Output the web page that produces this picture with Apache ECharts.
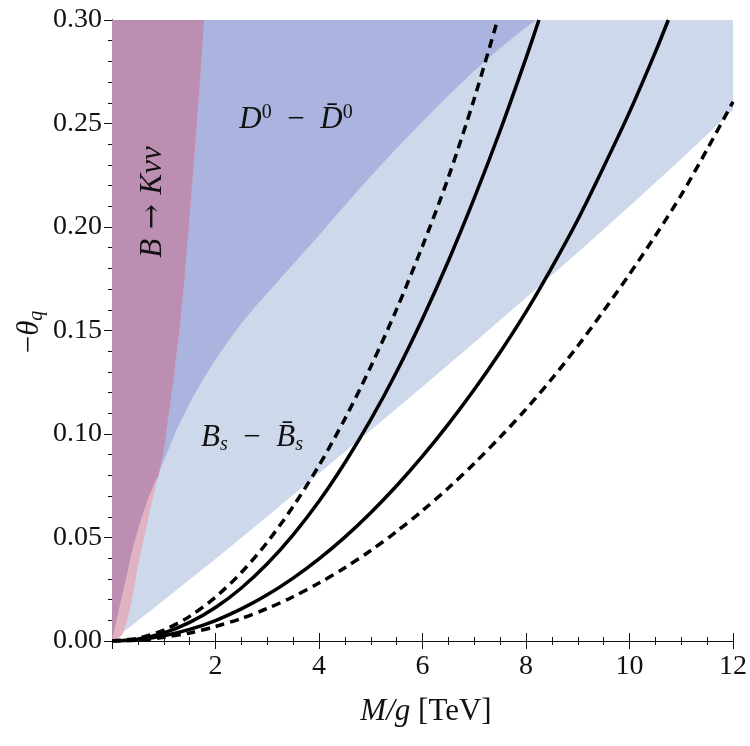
<!DOCTYPE html>
<html>
<head>
<meta charset="utf-8">
<script src="https://cdn.jsdelivr.net/npm/echarts@6/dist/echarts.min.js"></script>
<style>
  html, body { margin: 0; padding: 0; background: #fff; }
  #chart { width: 750px; height: 746px; }
</style>
</head>
<body>
<div id="chart"></div>
<script>
// boundaries of the excluded regions, [M/g in TeV, -theta_q]
const bsEdge = [[0, 0], [1, 0.0197], [2, 0.0396], [3, 0.0602], [4, 0.081], [5, 0.1018], [6, 0.1228],
  [7, 0.1442], [8, 0.1658], [9, 0.1877], [10, 0.21], [11, 0.2328], [12, 0.2565]];
const d0Edge = [[0, 0], [0.05, 0.006], [0.15, 0.017], [0.25, 0.028], [0.4, 0.045], [0.55, 0.058],
  [0.7, 0.069], [0.85, 0.078], [1.0, 0.087], [1.25, 0.102], [1.5, 0.115], [1.75, 0.126], [2.0, 0.136],
  [2.25, 0.145], [2.5, 0.1535], [2.75, 0.161], [3.0, 0.168], [3.5, 0.182], [4.0, 0.196], [4.5, 0.2105],
  [5.0, 0.2245], [5.5, 0.238], [6.0, 0.251], [6.5, 0.2635], [7.0, 0.2755], [7.5, 0.2865],
  [8.0, 0.2965], [8.2, 0.30]];
const kEdge = [[0, 0], [0.1, 0.0008], [0.2, 0.003], [0.3, 0.0105], [0.4, 0.022], [0.5, 0.036],
  [0.6, 0.048], [0.7, 0.059], [0.8, 0.07], [0.9, 0.08], [1.0, 0.092], [1.1, 0.11], [1.2, 0.128],
  [1.3, 0.15], [1.4, 0.175], [1.5, 0.205], [1.6, 0.237], [1.7, 0.27], [1.78, 0.30]];
const junction = 0.9;

// the four black bands
const dashedA = [[0, 0], [0.5, 0.0013], [1, 0.0053], [1.5, 0.0119], [2, 0.0212], [2.5, 0.0331],
  [3, 0.0477], [3.5, 0.065], [4, 0.0848], [4.5, 0.1073], [5, 0.1325], [5.5, 0.1603], [6, 0.1908],
  [6.5, 0.224], [7, 0.262], [7.45, 0.30]];
const solidA = [[0, 0], [0.5, 0.0009], [1, 0.0039], [1.5, 0.009], [2, 0.0162], [2.5, 0.0256],
  [3, 0.0373], [3.5, 0.0513], [4, 0.0675], [4.5, 0.0861], [5, 0.1069], [5.5, 0.1301], [6, 0.1557],
  [6.5, 0.1836], [7, 0.2139], [7.5, 0.2465], [8, 0.2816], [8.25, 0.30]];
const solidB = [[0, 0], [0.5, 0.0006], [1, 0.0025], [1.5, 0.0056], [2, 0.0099], [2.5, 0.0155],
  [3, 0.0223], [3.5, 0.0304], [4, 0.0397], [4.5, 0.0502], [5, 0.062], [5.5, 0.075], [6, 0.0893],
  [6.5, 0.1048], [7, 0.1215], [7.5, 0.1395], [8, 0.159], [8.5, 0.1805], [9, 0.2035], [9.5, 0.229],
  [10, 0.2555], [10.5, 0.2845], [10.75, 0.30]];
const dashedB = [[0, 0], [0.5, 0.0004], [1, 0.0018], [1.5, 0.0039], [2, 0.007], [2.5, 0.0109],
  [3, 0.0157], [3.5, 0.0214], [4, 0.028], [4.5, 0.0354], [5, 0.0437], [5.5, 0.0529], [6, 0.063],
  [6.5, 0.0739], [7, 0.0858], [7.5, 0.0985], [8, 0.112], [8.5, 0.1267], [9, 0.1425], [9.5, 0.1595],
  [10, 0.1772], [10.5, 0.1958], [11, 0.2155], [11.5, 0.2375], [12, 0.2605]];

const xTicks = [0, 12, 2];
const yTicks = [0, 0.3, 0.05];

const serif = "'Liberation Serif', 'DejaVu Serif', serif";
const ink = "#111";

// upper envelope of the D0 and K nu nu edges (where both regions overlap)
const overlapEdge = d0Edge.filter(p => p[0] < junction).concat(kEdge.filter(p => p[0] >= junction));

const region = (data, color) => ({
  type: "line",
  data: data,
  showSymbol: false,
  symbol: "none",
  lineStyle: { width: 0 },
  areaStyle: { color: color, opacity: 1, origin: "end" },
  silent: true,
});

const curve = (data, dashed) => ({
  type: "line",
  data: data,
  showSymbol: false,
  symbol: "none",
  smooth: 0.3,
  lineStyle: { color: "#000", width: 3.5, type: dashed ? [9, 6] : "solid" },
  silent: true,
  z: 5,
});

const tickAxis = (split) => ({
  axisLine: { show: true, lineStyle: { color: ink, width: 1 } },
  axisTick: { show: true, inside: true, length: 8, lineStyle: { color: ink } },
  minorTick: { show: true, splitNumber: split, length: 4, lineStyle: { color: ink } },
  splitLine: { show: false },
});

const rich = {
  i: { fontFamily: serif, fontStyle: "italic", fontSize: 31, lineHeight: 34, fill: ink },
  n: { fontFamily: serif, fontSize: 31, lineHeight: 34, fill: ink },
  a: { fontFamily: "'DejaVu Serif', serif", fontSize: 30, lineHeight: 34, fill: ink },
  s: { fontFamily: serif, fontSize: 20, lineHeight: 22, verticalAlign: "top", fill: ink },
  b: { fontFamily: serif, fontStyle: "italic", fontSize: 20, lineHeight: 20, verticalAlign: "bottom", fill: ink },
};

const label = (x, y, text, rotation) => ({
  type: "text", x: x, y: y, rotation: rotation || 0, z: 100,
  style: { text: text, align: "center", verticalAlign: "middle", rich: rich },
});

const chart = echarts.init(document.getElementById("chart"));
chart.setOption({
  animation: false,
  grid: { left: 112, right: 15, top: 20, bottom: 105 },
  xAxis: [
    Object.assign({
      type: "value", min: xTicks[0], max: xTicks[1], interval: xTicks[2], position: "bottom",
      axisLabel: {
        fontFamily: serif, fontSize: 28, color: ink, margin: 12,
        formatter: v => (v === 0 ? "" : String(v)),
      },
    }, tickAxis(4)),
    Object.assign({
      type: "value", min: xTicks[0], max: xTicks[1], interval: xTicks[2], position: "top",
      axisLabel: { show: false },
    }, tickAxis(4)),
  ],
  yAxis: [
    Object.assign({
      type: "value", min: yTicks[0], max: yTicks[1], interval: yTicks[2], position: "left",
      axisLabel: {
        fontFamily: serif, fontSize: 28, color: ink, margin: 10,
        formatter: v => v.toFixed(2),
      },
    }, tickAxis(5)),
    Object.assign({
      type: "value", min: yTicks[0], max: yTicks[1], interval: yTicks[2], position: "right",
      axisLabel: { show: false },
    }, tickAxis(5)),
  ],
  series: [
    region(bsEdge, "#cdd8ea"),
    region(d0Edge, "#aab4df"),
    region(kEdge, "#e0b2c2"),
    region(overlapEdge, "#bc8fb2"),
    curve(dashedA, true),
    curve(solidA, false),
    curve(solidB, false),
    curve(dashedB, true),
  ],
  graphic: [
    label(153, 202, "{i|B}{a| → }{i|Kνν}", Math.PI / 2),
    label(296, 120, "{i|D}{s|0}{n|\u2002−\u2002}{i|D\u0304}{s|0}"),
    label(252, 438, "{i|B}{b|s}{n|\u2002−\u2002}{i|B\u0304}{b|s}"),
    label(30, 332, "{n|−}{i|θ}{b|q}", Math.PI / 2),
    label(426, 712, "{i|M/g}{n| [TeV]}"),
  ],
});
</script>
</body>
</html>
